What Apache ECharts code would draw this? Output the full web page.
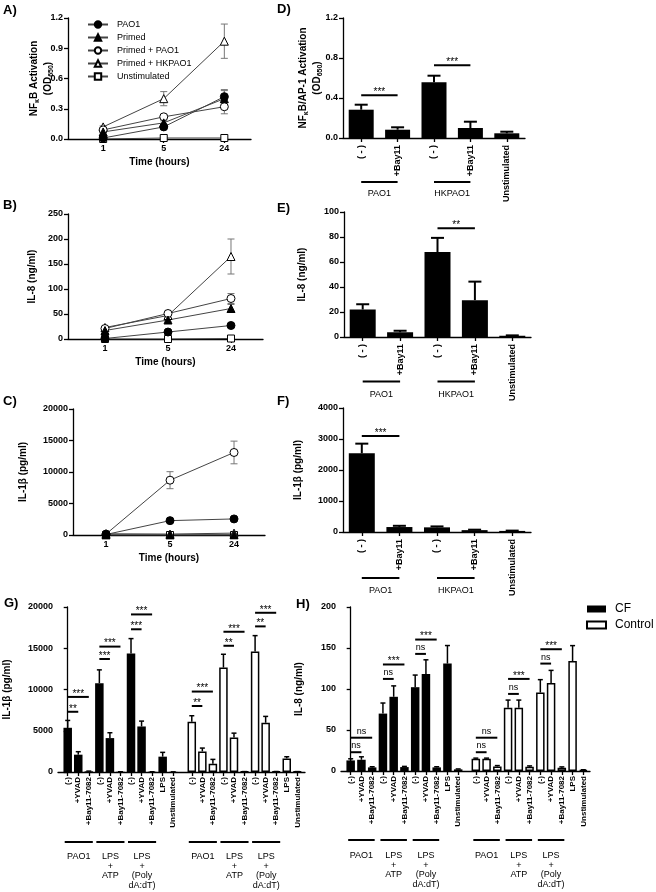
<!DOCTYPE html>
<html><head><meta charset="utf-8">
<script src="https://cdn.jsdelivr.net/npm/echarts@6/dist/echarts.min.js"></script>
<style>html,body{margin:0;padding:0;background:#fff}#c{width:656px;height:892px}</style>
</head><body><div id="c"></div>
<script>
// ---------------- DATA ----------------
const timeTicks = [1, 2, 3];
const timeLabels = ['1', '5', '24'];
const lineNames = ['PAO1', 'Primed', 'Primed + PAO1', 'Primed + HKPAO1', 'Unstimulated'];

// Panel A: NFkB activation (OD650)
const nfkbPAO1 = [0.01, 0.12, 0.42];
const nfkbPAO1Err = [0.005, 0.02, 0.06];
const nfkbPrimed = [0.07, 0.16, 0.40];
const nfkbPrimedErr = [0.01, 0.02, 0.09];
const nfkbPrimedPAO1 = [0.09, 0.22, 0.32];
const nfkbPrimedPAO1Err = [0.01, 0.02, 0.07];
const nfkbPrimedHK = [0.12, 0.40, 0.97];
const nfkbPrimedHKErr = [0.01, 0.07, 0.17];
const nfkbUnstim = [0.0, 0.01, 0.01];
const nfkbUnstimErr = [0, 0, 0];

// Panel B: IL-8 (ng/ml)
const il8PAO1 = [1, 14, 27];
const il8PAO1Err = [0.5, 2, 3];
const il8Primed = [17, 38, 61];
const il8PrimedErr = [2, 3, 8];
const il8PrimedPAO1 = [21, 51, 81];
const il8PrimedPAO1Err = [2, 3, 10];
const il8PrimedHK = [23, 47, 165];
const il8PrimedHKErr = [2, 4, 35];
const il8Unstim = [0, 0, 1];
const il8UnstimErr = [0, 0, 2];

// Panel C: IL-1b (pg/ml)
const il1PAO1 = [80, 2280, 2550];
const il1PAO1Err = [30, 150, 150];
const il1Primed = [20, 20, 30];
const il1PrimedErr = [10, 10, 10];
const il1PrimedPAO1 = [150, 8700, 13100];
const il1PrimedPAO1Err = [50, 1350, 1800];
const il1PrimedHK = [200, 150, 300];
const il1PrimedHKErr = [50, 50, 80];
const il1Unstim = [0, 0, 0];
const il1UnstimErr = [0, 0, 0];

// Panels D-F categories
const bayCats = ['( - )', '+Bay11', '( - )', '+Bay11', 'Unstimulated'];
const bayGroups = [['PAO1', 0, 1], ['HKPAO1', 2, 3]];
// D: NFkB/AP-1
const dVals = [0.283, 0.083, 0.557, 0.10, 0.047];
const dErr = [0.05, 0.024, 0.066, 0.063, 0.016];
const dSig = [[0, 1, 0.427, '***'], [2, 3, 0.727, '***']];
// E: IL-8
const eVals = [22, 3.8, 68, 29.5, 1];
const eErr = [4.2, 1.2, 11.3, 14.8, 0.3];
const eSig = [[2, 3, 87, '**']];
// F: IL-1b
const fVals = [2540, 160, 150, 60, 35];
const fErr = [310, 40, 30, 15, 10];
const fSig = [[0, 1, 3095, '***']];

// Panels G-H
const inhibCats = ['(-)', '+YVAD', '+Bay11-7082', '(-)', '+YVAD', '+Bay11-7082', '(-)', '+YVAD', '+Bay11-7082', 'LPS', 'Unstimulated'];
const inhibGroups = [['PAO1', 0, 2], ['LPS\n+\nATP', 3, 5], ['LPS\n+\n(Poly\ndA:dT)', 6, 8]];
// G: IL-1b
const gCF = [5360, 2100, 80, 10770, 4110, 30, 14360, 5520, 30, 1860, 20];
const gCFErr = [890, 360, 30, 1610, 650, 0, 1810, 650, 0, 520, 0];
const gCtrl = [6090, 2500, 1010, 12660, 4190, 50, 14600, 5970, 60, 1650, 50];
const gCtrlErr = [730, 400, 520, 1610, 520, 0, 1930, 770, 0, 200, 0];
const gCFSig = [[0, 1, 7300, '**'], [0, 2, 9100, '***'], [3, 4, 13700, '***'], [3, 5, 15200, '***'], [6, 7, 17300, '***'], [6, 8, 19100, '***']];
const gCtrlSig = [[0, 1, 8000, '**'], [0, 2, 9750, '***'], [3, 4, 15300, '**'], [3, 5, 17000, '***'], [6, 7, 17650, '**'], [6, 8, 19300, '***']];
// H: IL-8
const hCF = [12.9, 13.7, 4.4, 70, 90.5, 4.8, 102.2, 118.3, 4.4, 131, 2];
const hCFErr = [2, 3.6, 0.8, 12.9, 13.3, 0.8, 14.8, 17.3, 0.8, 22, 0.5];
const hCtrl = [14.9, 14.9, 5.6, 77.2, 77.2, 5.2, 95.7, 107.4, 4, 134, 1.2];
const hCtrlErr = [0.8, 0.8, 1, 9.3, 9.3, 1, 15.7, 15.3, 1, 18.9, 0.3];
const hCFSig = [[0, 1, 22.9, 'ns'], [0, 2, 40.6, 'ns'], [3, 4, 112.3, 'ns'], [3, 5, 129.9, '***'], [6, 7, 142.8, 'ns'], [6, 8, 160.3, '***']];
const hCtrlSig = [[0, 1, 22.9, 'ns'], [0, 2, 40.6, 'ns'], [3, 4, 94, 'ns'], [3, 5, 112.3, '***'], [6, 7, 131, 'ns'], [6, 8, 148.5, '***']];

// ---------------- CHART ----------------
const F = 'Liberation Sans, Arial, sans-serif';
const chart = echarts.init(document.getElementById('c'), null, {renderer: 'canvas', width: 656, height: 892});
const AX = {color: '#000', width: 1.3};

function txt(text, size, align, valign, weight, lh) {
  const s = {text: text, fill: '#000', fontSize: size, fontFamily: F, fontWeight: weight || 'normal',
    align: align, textAlign: align, verticalAlign: valign, textVerticalAlign: valign};
  if (lh) { s.lineHeight = lh; s.textLineHeight = lh; }
  return s;
}

const markerStyles = {
  'PAO1': {symbol: 'circle', fill: '#000', size: 8},
  'Primed': {symbol: 'triangle', fill: '#000', size: 8},
  'Primed + PAO1': {symbol: 'circle', fill: '#fff', size: 8},
  'Primed + HKPAO1': {symbol: 'triangle', fill: '#fff', size: 8},
  'Unstimulated': {symbol: 'rect', fill: '#fff', size: 7}
};

const series = [];

function errBoth(cap, color, lw) {
  return function (params, api) {
    const x = api.value(0);
    const lo = api.coord([x, api.value(1)]), hi = api.coord([x, api.value(2)]);
    return {type: 'group', children: [
      {type: 'line', shape: {x1: lo[0], y1: lo[1], x2: hi[0], y2: hi[1]}, style: {stroke: color, lineWidth: lw}},
      {type: 'line', shape: {x1: hi[0] - cap / 2, y1: hi[1], x2: hi[0] + cap / 2, y2: hi[1]}, style: {stroke: color, lineWidth: lw}},
      {type: 'line', shape: {x1: lo[0] - cap / 2, y1: lo[1], x2: lo[0] + cap / 2, y2: lo[1]}, style: {stroke: color, lineWidth: lw}}
    ]};
  };
}
function errUp(cap, lw) {
  return function (params, api) {
    const x = api.value(0);
    const lo = api.coord([x, api.value(1)]), hi = api.coord([x, api.value(2)]);
    return {type: 'group', children: [
      {type: 'line', shape: {x1: lo[0], y1: lo[1], x2: hi[0], y2: hi[1]}, style: {stroke: '#000', lineWidth: lw}},
      {type: 'line', shape: {x1: hi[0] - cap / 2, y1: hi[1], x2: hi[0] + cap / 2, y2: hi[1]}, style: {stroke: '#000', lineWidth: lw}}
    ]};
  };
}

function addLinePanel(gi, vals, errs) {
  lineNames.forEach((n, k) => {
    const d = [];
    vals[k].forEach((v, i) => { if (errs[k][i] > 0) d.push([timeTicks[i], v - errs[k][i], v + errs[k][i]]); });
    series.push({type: 'custom', xAxisIndex: gi, yAxisIndex: gi, z: 1, silent: true, data: d,
      encode: {x: 0, y: [1, 2]}, renderItem: errBoth(7, '#777', 1)});
  });
  for (let k = lineNames.length - 1; k >= 0; k--) {
    const n = lineNames[k], m = markerStyles[n];
    series.push({type: 'line', name: n, xAxisIndex: gi, yAxisIndex: gi, z: 3,
      data: vals[k].map((v, i) => [timeTicks[i], v]),
      symbol: m.symbol, symbolSize: m.size, showSymbol: true,
      itemStyle: {color: m.fill, borderColor: '#000', borderWidth: 1},
      lineStyle: {color: '#444', width: 1}, emphasis: {disabled: true}});
  }
}

function sigSeries(gi, items, pos) {
  const labels = items.map(s => s[3]);
  return {type: 'custom', xAxisIndex: gi, yAxisIndex: gi, silent: true, z: 5,
    data: items.map(s => [pos(s[0]), pos(s[1]), s[2]]), encode: {x: [0, 1], y: 2},
    renderItem: function (params, api) {
      const y = api.value(2);
      const a = api.coord([api.value(0), y]), b = api.coord([api.value(1), y]);
      const lab = labels[params.dataIndex];
      const ns = lab === 'ns';
      return {type: 'group', children: [
        {type: 'line', shape: {x1: a[0], y1: a[1], x2: b[0], y2: b[1]}, style: {stroke: '#000', lineWidth: 2}},
        {type: 'text', x: (a[0] + b[0]) / 2, y: a[1] - (ns ? 2 : -2), style: txt(lab, ns ? 9 : 10, 'center', 'bottom')}
      ]};
    }};
}

function groupSeries(gi, groups, pos, lineOff, textOff, extL, extR, lh) {
  const labels = groups.map(g => g[0]);
  return {type: 'custom', xAxisIndex: gi, yAxisIndex: gi, silent: true, z: 5,
    data: groups.map(g => [pos(g[1]), pos(g[2]), 0]), encode: {x: [0, 1], y: 2},
    renderItem: function (params, api) {
      const a = api.coord([api.value(0), 0]), b = api.coord([api.value(1), 0]);
      const y = a[1] + lineOff;
      return {type: 'group', children: [
        {type: 'line', shape: {x1: a[0] - extL, y1: y, x2: b[0] + extR, y2: y}, style: {stroke: '#000', lineWidth: 2}},
        {type: 'text', x: (a[0] - extL + b[0] + extR) / 2, y: y + textOff, style: txt(labels[params.dataIndex], 9, 'center', 'top', 'normal', lh)}
      ]};
    }};
}

function addCatBarPanel(gi, vals, errs, sig, bw, cap, lineOff, textOff) {
  const id = i => i;
  series.push({type: 'bar', xAxisIndex: gi, yAxisIndex: gi, data: vals, barWidth: bw, itemStyle: {color: '#000'}, z: 2, silent: true});
  series.push({type: 'custom', xAxisIndex: gi, yAxisIndex: gi, silent: true, z: 3,
    data: vals.map((v, i) => [i, v, v + errs[i]]), encode: {x: 0, y: [1, 2]}, renderItem: errUp(cap, 2)});
  series.push(sigSeries(gi, sig, id));
  series.push(groupSeries(gi, bayGroups, id, lineOff, textOff, 0, 0, 10));
}

function addInhibPanel(gi, cf, cfErr, ctrl, ctrlErr, cfSig, ctrlSig, gap, lineOff, textOff, extL, extR) {
  const pCF = i => i, pCt = i => i + gap;
  series.push({type: 'bar', name: 'CF', xAxisIndex: gi, yAxisIndex: gi, barWidth: 8.5, barGap: '-100%', z: 2, silent: true,
    data: cf.map((v, i) => [pCF(i), v]), itemStyle: {color: '#000', borderColor: '#000', borderWidth: 0}});
  series.push({type: 'bar', name: 'Control', xAxisIndex: gi, yAxisIndex: gi, barWidth: 8.5, barGap: '-100%', z: 2, silent: true,
    data: ctrl.map((v, i) => [pCt(i), v]), itemStyle: {color: '#fff', borderColor: '#000', borderWidth: 1.5}});
  series.push({type: 'custom', xAxisIndex: gi, yAxisIndex: gi, silent: true, z: 3,
    data: cf.map((v, i) => [pCF(i), v, v + cfErr[i]]).concat(ctrl.map((v, i) => [pCt(i), v, v + ctrlErr[i]])),
    encode: {x: 0, y: [1, 2]}, renderItem: errUp(5, 1.5)});
  series.push(sigSeries(gi, cfSig, pCF));
  series.push(sigSeries(gi, ctrlSig, pCt));
  series.push(groupSeries(gi, inhibGroups, pCF, lineOff, textOff, extL, extR, 9.5));
  series.push(groupSeries(gi, inhibGroups, pCt, lineOff, textOff, extL, extR, 9.5));
}

addLinePanel(0, [nfkbPAO1, nfkbPrimed, nfkbPrimedPAO1, nfkbPrimedHK, nfkbUnstim],
  [nfkbPAO1Err, nfkbPrimedErr, nfkbPrimedPAO1Err, nfkbPrimedHKErr, nfkbUnstimErr]);
addLinePanel(1, [il8PAO1, il8Primed, il8PrimedPAO1, il8PrimedHK, il8Unstim],
  [il8PAO1Err, il8PrimedErr, il8PrimedPAO1Err, il8PrimedHKErr, il8UnstimErr]);
addLinePanel(2, [il1PAO1, il1Primed, il1PrimedPAO1, il1PrimedHK, il1Unstim],
  [il1PAO1Err, il1PrimedErr, il1PrimedPAO1Err, il1PrimedHKErr, il1UnstimErr]);
addCatBarPanel(3, dVals, dErr, dSig, 25, 13, 44, 7);
addCatBarPanel(4, eVals, eErr, eSig, 26, 13, 44.5, 8);
addCatBarPanel(5, fVals, fErr, fSig, 26, 13, 46, 8);
const G_GAP = 11.76, H_GAP = 11.64;
addInhibPanel(6, gCF, gCFErr, gCtrl, gCtrlErr, gCFSig, gCtrlSig, G_GAP, 70, 10, 3, 4);
addInhibPanel(7, hCF, hCFErr, hCtrl, hCtrlErr, hCFSig, hCtrlSig, H_GAP, 69, 11, 2.5, 2.5);

// ---------------- AXES ----------------
const grids = [
  {left: 68, top: 18, width: 183, height: 121},
  {left: 68, top: 214, width: 195, height: 125},
  {left: 73, top: 409, width: 192, height: 126},
  {left: 343, top: 18, width: 182, height: 120},
  {left: 344, top: 212, width: 187, height: 125},
  {left: 343, top: 408, width: 188, height: 124},
  {left: 58, top: 607, width: 247, height: 165},
  {left: 341, top: 607, width: 249, height: 164}
];

function timeX(gi, min, max) {
  return {type: 'value', gridIndex: gi, min: min, max: max,
    axisLine: {show: true, onZero: false, lineStyle: AX},
    axisTick: {show: true, customValues: timeTicks, length: 4, lineStyle: AX},
    axisLabel: {customValues: timeTicks, formatter: v => { const k = timeTicks.indexOf(v); return k >= 0 ? timeLabels[k] : ''; },
      fontSize: 9, fontWeight: 'bold', color: '#000', fontFamily: F, margin: 5},
    splitLine: {show: false},
    name: 'Time (hours)', nameLocation: 'middle', nameGap: 18, nameMoveOverlap: false,
    nameTextStyle: {fontSize: 10, fontWeight: 'bold', color: '#000', fontFamily: F}};
}
function catX(gi, cats) {
  return {type: 'category', gridIndex: gi, data: cats, boundaryGap: true,
    axisLine: {show: true, onZero: false, lineStyle: AX},
    axisTick: {show: true, alignWithLabel: true, interval: 0, length: 4, lineStyle: AX},
    axisLabel: {rotate: 90, interval: 0, fontSize: 9, fontWeight: 'bold', color: '#000', fontFamily: F, margin: 7},
    splitLine: {show: false}};
}
function inhibX(gi, min, max, gap) {
  const pos = inhibCats.map((_, i) => i).concat(inhibCats.map((_, i) => i + gap));
  const labs = inhibCats.concat(inhibCats);
  return {type: 'value', gridIndex: gi, min: min, max: max,
    axisLine: {show: true, onZero: false, lineStyle: AX},
    axisTick: {show: true, customValues: pos, length: 4, lineStyle: AX},
    axisLabel: {customValues: pos, rotate: 90, formatter: v => { const k = pos.findIndex(p => Math.abs(p - v) < 1e-6); return k >= 0 ? labs[k] : ''; },
      fontSize: 8, fontWeight: 'bold', color: '#000', fontFamily: F, margin: 5},
    splitLine: {show: false}};
}
function yAx(gi, max, interval, name, gap, fmt, rich) {
  const a = {type: 'value', gridIndex: gi, min: 0, max: max, interval: interval,
    axisLine: {show: true, lineStyle: AX},
    axisTick: {show: true, length: 4, lineStyle: AX},
    axisLabel: {fontSize: 9, fontWeight: 'bold', color: '#000', fontFamily: F, margin: 5, formatter: fmt || (v => String(v))},
    splitLine: {show: false},
    name: name, nameLocation: 'middle', nameGap: gap, nameRotate: 90, nameMoveOverlap: false,
    nameTextStyle: {fontSize: 10, fontWeight: 'bold', color: '#000', fontFamily: F}};
  if (rich) a.nameTextStyle.rich = rich;
  return a;
}
const subRich = {
  t: {fontSize: 10, fontWeight: 'bold', color: '#000', fontFamily: F, lineHeight: 14, verticalAlign: 'middle'},
  k: {fontSize: 7, fontWeight: 'bold', color: '#000', fontFamily: F, lineHeight: 7, verticalAlign: 'bottom'}
};
const fx1 = v => v.toFixed(1);

const option = {
  animation: false,
  backgroundColor: '#fff',
  textStyle: {fontFamily: F},
  title: [
    ['A)', 3, 4], ['D)', 277, 3], ['B)', 3, 199], ['E)', 277, 202], ['C)', 3, 395], ['F)', 277, 395], ['G)', 4, 597], ['H)', 296, 598]
  ].map(t => ({text: t[0], left: t[1], top: t[2], padding: 0, textStyle: {fontSize: 13, fontWeight: 'bold', color: '#000', fontFamily: F}})),
  legend: [
    {data: lineNames, orient: 'vertical', left: 87, top: 19.5, padding: 0, itemWidth: 20, itemHeight: 8, itemGap: 3,
      selectedMode: false, textStyle: {fontSize: 9, color: '#000', fontFamily: F, padding: [0, 0, 0, 4], lineHeight: 10}},
    {data: ['CF', 'Control'], orient: 'vertical', left: 586, top: 603, padding: 0, itemWidth: 19, itemHeight: 7, itemGap: 4, icon: 'rect',
      selectedMode: false, textStyle: {fontSize: 12, color: '#000', fontFamily: F, padding: [0, 0, 0, 4]}}
  ],
  grid: grids.map(g => Object.assign({containLabel: false}, g)),
  xAxis: [
    timeX(0, 0.42, 3.44), timeX(1, 0.413, 3.508), timeX(2, 0.484, 3.484),
    catX(3, bayCats), catX(4, bayCats), catX(5, bayCats),
    inhibX(6, -0.92, 22.49, G_GAP), inhibX(7, -0.9, 22.26, H_GAP)
  ],
  yAxis: [
    yAx(0, 1.2, 0.3, '{t|NF}{k|κ}{t|B Activation}\n{t|(OD}{k|650}{t|)}', 13, fx1, subRich),
    yAx(1, 250, 50, 'IL-8 (ng/ml)', 31),
    yAx(2, 20000, 5000, 'IL-1β (pg/ml)', 45),
    yAx(3, 1.2, 0.4, '{t|NF}{k|κ}{t|B/AP-1 Activation}\n{t|(OD}{k|650}{t|)}', 19, fx1, subRich),
    yAx(4, 100, 20, 'IL-8 (ng/ml)', 37),
    yAx(5, 4000, 1000, 'IL-1β (pg/ml)', 40),
    yAx(6, 20000, 5000, 'IL-1β (pg/ml)', 46),
    yAx(7, 200, 50, 'IL-8 (ng/ml)', 37)
  ],
  series: series
};
chart.setOption(option);
</script></body></html>
